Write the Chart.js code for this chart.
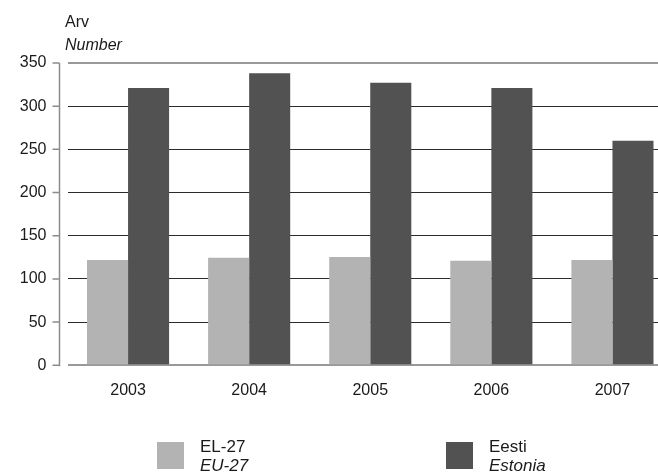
<!DOCTYPE html>
<html>
<head>
<meta charset="utf-8">
<script src="https://cdn.jsdelivr.net/npm/chart.js@4"></script>
<style>
  html, body { margin: 0; padding: 0; background: #fff; overflow: hidden; }
  #wrap { position: relative; width: 680px; height: 474px; }
</style>
</head>
<body>
<div id="wrap"><canvas id="chart"></canvas></div>
<script>
// chart data
const years = ['2003', '2004', '2005', '2006', '2007'];
const eu27 = [122, 124.5, 125.5, 121, 122];
const estonia = [321, 338, 327, 321, 260];
const seriesLabels = [['EL-27', 'EU-27'], ['Eesti', 'Estonia']];
const seriesColors = ['#b3b3b3', '#525252'];
const yTitle = ['Arv', 'Number'];

const FONT = 'Liberation Sans, Arial, Helvetica, sans-serif';

// title above the axis: plain line + italic line
const titlePlugin = {
    id: 'twoLineTitle',
    afterDraw(chart) {
        const ctx = chart.ctx;
        ctx.save();
        ctx.fillStyle = '#1a1a1a';
        ctx.textBaseline = 'alphabetic';
        ctx.textAlign = 'left';
        ctx.font = '16px ' + FONT;
        ctx.fillText(yTitle[0], 65, 27);
        ctx.font = 'italic 16px ' + FONT;
        ctx.fillText(yTitle[1], 65, 50);
        ctx.restore();
    }
};

// y axis line sits a bit left of the plot, with small ticks
const axisLinePlugin = {
    id: 'axisLine',
    afterDraw(chart) {
        const ctx = chart.ctx;
        const y = chart.scales.y;
        const x = chart.chartArea.left - 8;
        ctx.save();
        ctx.strokeStyle = '#8c8c8c';
        ctx.lineWidth = 1.5;
        ctx.beginPath();
        ctx.moveTo(x, y.getPixelForValue(350));
        ctx.lineTo(x, y.getPixelForValue(0) + 1);
        y.ticks.forEach(t => {
            const py = y.getPixelForValue(t.value);
            ctx.moveTo(x - 7, py);
            ctx.lineTo(x, py);
        });
        ctx.stroke();
        ctx.restore();
    }
};

// legend with two lines per entry, second in italics
const legendPlugin = {
    id: 'twoLineLegend',
    afterDraw(chart) {
        const ctx = chart.ctx;
        const boxX = [157, 446];
        ctx.save();
        chart.data.datasets.forEach((ds, i) => {
            ctx.fillStyle = ds.backgroundColor;
            ctx.fillRect(boxX[i], 442, 27, 27);
            ctx.fillStyle = '#1a1a1a';
            ctx.textAlign = 'left';
            ctx.textBaseline = 'alphabetic';
            ctx.font = '17px ' + FONT;
            ctx.fillText(ds.label[0], boxX[i] + 43, 452);
            ctx.font = 'italic 17px ' + FONT;
            ctx.fillText(ds.label[1], boxX[i] + 43, 471);
        });
        ctx.restore();
    }
};

new Chart(document.getElementById('chart'), {
    type: 'bar',
    data: {
        labels: years,
        datasets: [
            {
                label: seriesLabels[0],
                data: eu27,
                backgroundColor: seriesColors[0]
            },
            {
                label: seriesLabels[1],
                data: estonia,
                backgroundColor: seriesColors[1]
            }
        ]
    },
    options: {
        responsive: true,
        maintainAspectRatio: false,
        animation: false,
        datasets: {
            bar: {
                categoryPercentage: 0.678,
                barPercentage: 1.0
            }
        },
        layout: {
            padding: { top: 63, right: 7, bottom: 68.7, left: 0 }
        },
        plugins: {
            legend: { display: false },
            tooltip: { enabled: false }
        },
        scales: {
            x: {
                grid: { display: false },
                border: { display: false },
                ticks: {
                    color: '#1a1a1a',
                    font: { family: FONT, size: 16 },
                    padding: 8,
                    maxRotation: 0
                },
                afterFit(scale) { scale.height = 40; }
            },
            y: {
                min: 0,
                max: 350,
                border: { display: false },
                grid: {
                    drawTicks: false,
                    color: ctx => (ctx.tick.value === 0 || ctx.tick.value === 350) ? '#999999' : '#2b2b2b',
                    lineWidth: ctx => (ctx.tick.value === 0 || ctx.tick.value === 350) ? 2 : 1
                },
                ticks: {
                    stepSize: 50,
                    color: '#1a1a1a',
                    font: { family: FONT, size: 16 },
                    padding: 21
                },
                afterFit(scale) { scale.width = 67.5; }
            }
        }
    },
    plugins: [titlePlugin, axisLinePlugin, legendPlugin]
});
</script>
</body>
</html>
